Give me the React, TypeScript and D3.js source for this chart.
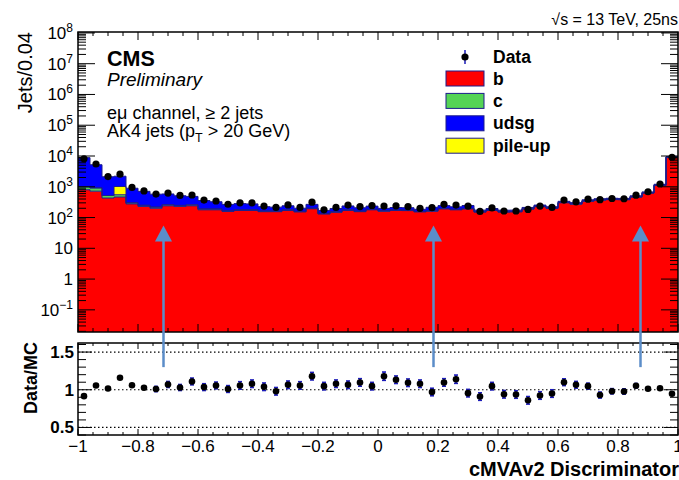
import React, { useEffect, useRef } from "react";
import * as d3 from "d3";

// jets per 0.04 bin (50 bins from -1 to 1)
const dataCounts = [
  8100, 5500, 2150, 2560, 950, 730, 580, 625, 525, 540,
  370, 345, 270, 300, 300, 235, 213, 257, 213, 316,
  178, 213, 254, 228, 246, 235, 240, 228, 200, 209,
  268, 254, 235, 158, 205, 163, 163, 183, 235, 213,
  370, 325, 395, 380, 415, 408, 535, 690, 1230, 9100,
];
const bJets = [
  800, 720, 430, 465, 277, 230, 200, 240, 230, 240,
  178, 178, 158, 170, 170, 155, 155, 170, 152, 193,
  130, 148, 170, 155, 178, 160, 170, 168, 152, 160,
  190, 178, 190, 150, 170, 150, 152, 188, 225, 198,
  300, 272, 338, 368, 382, 378, 462, 622, 1110, 9150,
];
const cJets = [
  200, 200, 90, 85, 25, 20, 18, 20, 18, 18,
  12, 12, 10, 10, 10, 8, 8, 8, 7, 8,
  6, 7, 8, 7, 8, 7, 7, 7, 6, 7,
  7, 7, 7, 5, 5, 5, 5, 5, 6, 6,
  8, 8, 9, 9, 9, 9, 10, 12, 16, 50,
];
const udsgJets = [
  7850, 4280, 1595, 1180, 594, 460, 356, 324, 262, 228,
  167, 136, 99, 104, 98, 63, 54, 63, 42, 67,
  34, 42, 60, 46, 49, 32, 35, 34, 27, 48,
  47, 38, 49, 19, 21, 18, 17, 20, 23, 20,
  28, 25, 30, 32, 32, 31, 36, 47, 80, 400,
];
const pileupJets = [
  0, 0, 0, 470, 0, 0, 0, 0, 0, 0,
  0, 0, 0, 0, 0, 0, 0, 0, 0, 0,
  0, 0, 0, 0, 0, 0, 0, 0, 0, 0,
  0, 0, 0, 0, 0, 0, 0, 0, 0, 0,
  0, 0, 0, 0, 0, 0, 0, 0, 0, 0,
];
const ratioVals = [
  0.915, 1.057, 1.017, 1.16, 1.06, 1.027, 1.01, 1.07, 1.03, 1.11,
  1.035, 1.057, 1.01, 1.057, 1.08, 1.04, 0.98, 1.066, 1.057, 1.18,
  1.048, 1.08, 1.066, 1.097, 1.048, 1.18, 1.133, 1.093, 1.08, 0.97,
  1.097, 1.14, 0.955, 0.91, 1.048, 0.94, 0.937, 0.86, 0.924, 0.95,
  1.1, 1.066, 1.048, 0.93, 0.98, 0.977, 1.053, 1.013, 1.02, 0.947,
];
const ratioErr = [
  0.008, 0.01, 0.015, 0.015, 0.02, 0.025, 0.035, 0.04, 0.04, 0.045,
  0.045, 0.045, 0.045, 0.05, 0.05, 0.05, 0.05, 0.05, 0.05, 0.05,
  0.05, 0.05, 0.05, 0.05, 0.05, 0.055, 0.05, 0.05, 0.05, 0.05,
  0.05, 0.055, 0.05, 0.05, 0.05, 0.05, 0.05, 0.05, 0.05, 0.05,
  0.045, 0.045, 0.04, 0.04, 0.035, 0.035, 0.03, 0.015, 0.01, 0.005,
];
const xTicks = [-1, -0.8, -0.6, -0.4, -0.2, 0, 0.2, 0.4, 0.6, 0.8, 1];
const xTickLabels = ["\u22121", "\u22120.8", "\u22120.6", "\u22120.4", "\u22120.2", "0", "0.2", "0.4", "0.6", "0.8", "1"];
const yDecades = [-1, 0, 1, 2, 3, 4, 5, 6, 7, 8];
const ratioTicks = [0.5, 1, 1.5];
const ratioTickLabels = ["0.5", "1", "1.5"];
const wpCuts = [-0.715, 0.185, 0.875];

const legendItems = [
  { label: "b", color: "#ff0000" },
  { label: "c", color: "#55d455" },
  { label: "udsg", color: "#0000ff" },
  { label: "pile-up", color: "#ffff00" },
];

export default function App() {
  const ref = useRef<SVGSVGElement>(null);

  useEffect(() => {
    const svg = d3.select(ref.current);
    svg.selectAll("*").remove();

    const font = "'Liberation Sans', Arial, Helvetica, sans-serif";
    const left = 78, right = 678;
    const mainTop = 32, mainBottom = 332;
    const ratioTop = 343, ratioBottom = 435;
    const outline = "#1c1c8c";
    const arrowColor = "#5b8dc8";

    const x = d3.scaleLinear().domain([-1, 1]).range([left, right]);
    const yMin = Math.pow(10, -1.72);
    const yMax = Math.pow(10, 8.03);
    const y = d3.scaleLog().domain([yMin, yMax]).range([mainBottom, mainTop]).clamp(true);
    const yr = d3.scaleLinear().domain([0.4, 1.62]).range([ratioBottom, ratioTop]);

    const nBins = dataCounts.length;
    const bw = 2 / nBins;
    const edges = d3.range(nBins + 1).map(i => -1 + i * bw);
    const centers = d3.range(nBins).map(i => -1 + (i + 0.5) * bw);

    svg.attr("width", 679).attr("height", 480).style("font-family", font);
    svg.append("rect").attr("width", 679).attr("height", 480).attr("fill", "white");

    svg.append("clipPath").attr("id", "mainClip")
      .append("rect").attr("x", left).attr("y", mainTop)
      .attr("width", right - left).attr("height", mainBottom - mainTop);

    // stacked histogram: b, c, pile-up, udsg
    const rows = d3.range(nBins).map(i => ({
      b: bJets[i], c: cJets[i], pileup: pileupJets[i], udsg: udsgJets[i],
    }));
    const stacked = d3.stack<any>().keys(["b", "c", "pileup", "udsg"])(rows);
    const colors: Record<string, string> = { b: "#ff0000", c: "#55d455", pileup: "#ffff00", udsg: "#0000ff" };

    const area = d3.area<[number, number, number]>()
      .x(d => x(d[0]))
      .y0(d => y(Math.max(d[1], yMin)))
      .y1(d => y(Math.max(d[2], yMin)))
      .curve(d3.curveStepAfter);
    const topLine = d3.line<[number, number, number]>()
      .x(d => x(d[0]))
      .y(d => y(Math.max(d[2], yMin)))
      .curve(d3.curveStepAfter);

    const stepPoints = (series: any) =>
      edges.map((e, i) => {
        const s = series[Math.min(i, nBins - 1)];
        return [e, s[0], s[1]] as [number, number, number];
      });

    const hist = svg.append("g").attr("clip-path", "url(#mainClip)");
    stacked.forEach(series => {
      hist.append("path").attr("d", area(stepPoints(series))).attr("fill", colors[series.key]);
    });
    stacked.forEach(series => {
      hist.append("path").attr("d", topLine(stepPoints(series))).attr("fill", "none")
        .attr("stroke", outline).attr("stroke-width", 1);
    });

    // data points (main)
    hist.append("g").selectAll("circle").data(dataCounts).join("circle")
      .attr("cx", (d, i) => x(centers[i]))
      .attr("cy", d => y(d))
      .attr("r", 3.6)
      .attr("fill", "black");

    // ratio panel reference lines
    const rp = svg.append("g");
    ratioTicks.forEach(t => {
      rp.append("line").attr("x1", left).attr("x2", right)
        .attr("y1", yr(t)).attr("y2", yr(t))
        .attr("stroke", "black").attr("stroke-width", 1.2)
        .attr("stroke-dasharray", "1.5,2.5");
    });
    const errG = rp.append("g").attr("stroke", "#1a1ab8").attr("stroke-width", 1.6);
    ratioVals.forEach((r, i) => {
      const cx = x(centers[i]);
      const e = ratioErr[i];
      if (yr(r - e) - yr(r + e) > 4) {
        errG.append("line").attr("x1", cx).attr("x2", cx).attr("y1", yr(r - e)).attr("y2", yr(r + e));
        errG.append("line").attr("x1", cx - 2).attr("x2", cx + 2).attr("y1", yr(r - e)).attr("y2", yr(r - e));
        errG.append("line").attr("x1", cx - 2).attr("x2", cx + 2).attr("y1", yr(r + e)).attr("y2", yr(r + e));
      }
    });
    rp.append("g").selectAll("circle").data(ratioVals).join("circle")
      .attr("cx", (d, i) => x(centers[i]))
      .attr("cy", d => yr(d))
      .attr("r", 3.3)
      .attr("fill", "black");

    // frames
    svg.append("rect").attr("x", left).attr("y", mainTop)
      .attr("width", right - left).attr("height", mainBottom - mainTop)
      .attr("fill", "none").attr("stroke", "black").attr("stroke-width", 1.5);
    svg.append("rect").attr("x", left).attr("y", ratioTop)
      .attr("width", right - left).attr("height", ratioBottom - ratioTop)
      .attr("fill", "none").attr("stroke", "black").attr("stroke-width", 1.5);

    const ticks = svg.append("g").attr("stroke", "black").attr("stroke-width", 1);
    const xMinor = d3.range(-1, 1.0001, 0.05);
    const xMajor = d3.range(-1, 1.0001, 0.2);
    const isMajor = (v: number) => xMajor.some(m => Math.abs(m - v) < 1e-6);
    // x ticks on both panels
    [[mainTop, mainBottom, 8, 4], [ratioTop, ratioBottom, 6, 3]].forEach(([t, b, lMaj, lMin]) => {
      xMinor.forEach(v => {
        const len = isMajor(v) ? lMaj : lMin;
        ticks.append("line").attr("x1", x(v)).attr("x2", x(v)).attr("y1", t).attr("y2", t + len);
        ticks.append("line").attr("x1", x(v)).attr("x2", x(v)).attr("y1", b).attr("y2", b - len);
      });
    });
    // log y ticks
    d3.range(-2, 9).forEach(k => {
      d3.range(1, 10).forEach(m => {
        const v = m * Math.pow(10, k);
        if (v < yMin || v > yMax) return;
        const len = m === 1 ? 17 : 8;
        ticks.append("line").attr("x1", left).attr("x2", left + len).attr("y1", y(v)).attr("y2", y(v));
        ticks.append("line").attr("x1", right).attr("x2", right - len).attr("y1", y(v)).attr("y2", y(v));
      });
    });
    // ratio y ticks
    d3.range(4, 17).map(i => i / 10).forEach(v => {
      const len = ratioTicks.some(t => Math.abs(t - v) < 1e-6) ? 14 : 8;
      ticks.append("line").attr("x1", left).attr("x2", left + len).attr("y1", yr(v)).attr("y2", yr(v));
      ticks.append("line").attr("x1", right).attr("x2", right - len).attr("y1", yr(v)).attr("y2", yr(v));
    });

    // y tick labels (main)
    yDecades.forEach(k => {
      const t = svg.append("text").attr("x", 73).attr("y", y(Math.pow(10, k)) + 6)
        .attr("text-anchor", "end").attr("font-size", 17);
      if (k === 0) t.text("1");
      else if (k === 1) t.text("10");
      else {
        t.append("tspan").text("10");
        t.append("tspan").attr("dy", -7).attr("font-size", 12).text(k < 0 ? "\u2212" + -k : String(k));
      }
    });
    // ratio tick labels
    ratioTicks.forEach((v, i) => {
      svg.append("text").attr("x", 74).attr("y", yr(v) + 6)
        .attr("text-anchor", "end").attr("font-size", 17).attr("font-weight", "bold")
        .text(ratioTickLabels[i]);
    });
    // x tick labels
    xTicks.forEach((v, i) => {
      svg.append("text").attr("x", x(v)).attr("y", 452)
        .attr("text-anchor", "middle").attr("font-size", 17)
        .text(xTickLabels[i]);
    });

    // axis titles
    svg.append("text").attr("transform", `translate(32,${mainTop}) rotate(-90)`)
      .attr("text-anchor", "end").attr("font-size", 20).text("Jets/0.04");
    svg.append("text").attr("transform", "translate(37,378) rotate(-90)")
      .attr("text-anchor", "middle").attr("font-size", 18).attr("font-weight", "bold").text("Data/MC");
    svg.append("text").attr("x", 679).attr("y", 476)
      .attr("text-anchor", "end").attr("font-size", 20).attr("font-weight", "bold")
      .text("cMVAv2 Discriminator");
    svg.append("text").attr("x", 678).attr("y", 25)
      .attr("text-anchor", "end").attr("font-size", 16).text("\u221As = 13 TeV, 25ns");

    // CMS labels
    svg.append("text").attr("x", 107).attr("y", 66).attr("font-size", 21.5).attr("font-weight", "bold").text("CMS");
    svg.append("text").attr("x", 107).attr("y", 86).attr("font-size", 19).attr("font-style", "italic").text("Preliminary");
    svg.append("text").attr("x", 107).attr("y", 119).attr("font-size", 18).text("e\u03bc channel, \u2265 2 jets");
    const ak4 = svg.append("text").attr("x", 107).attr("y", 136.5).attr("font-size", 18);
    ak4.append("tspan").text("AK4 jets (p");
    ak4.append("tspan").attr("dy", 5).attr("font-size", 12.5).text("T");
    ak4.append("tspan").attr("dy", -5).text(" > 20 GeV)");

    // legend
    const lg = svg.append("g");
    lg.append("line").attr("x1", 465).attr("x2", 465).attr("y1", 50).attr("y2", 64)
      .attr("stroke", "#1a1ab8").attr("stroke-width", 1.5);
    lg.append("circle").attr("cx", 465).attr("cy", 57).attr("r", 3.6).attr("fill", "black");
    lg.append("text").attr("x", 493).attr("y", 63).attr("font-size", 17.5).attr("font-weight", "bold").text("Data");
    legendItems.forEach((item, i) => {
      const cy = 78.5 + i * 22.4;
      lg.append("rect").attr("x", 446).attr("y", cy - 7.5).attr("width", 38).attr("height", 15)
        .attr("fill", item.color).attr("stroke", outline).attr("stroke-width", 1);
      lg.append("text").attr("x", 493).attr("y", cy + 6).attr("font-size", 17.5)
        .attr("font-weight", "bold").text(item.label);
    });

    // working-point arrows
    const ar = svg.append("g");
    wpCuts.forEach(c => {
      const cx = x(c);
      const tip = y(55);
      ar.append("line").attr("x1", cx).attr("x2", cx).attr("y1", yr(1.3)).attr("y2", tip + 14)
        .attr("stroke", arrowColor).attr("stroke-width", 2.5);
      ar.append("path")
        .attr("d", `M${cx},${tip}L${cx - 8.5},${tip + 16}L${cx + 8.5},${tip + 16}Z`)
        .attr("fill", arrowColor);
    });
  }, []);

  return <svg ref={ref} style={{ position: "absolute", left: 0, top: 0 }}></svg>;
}
